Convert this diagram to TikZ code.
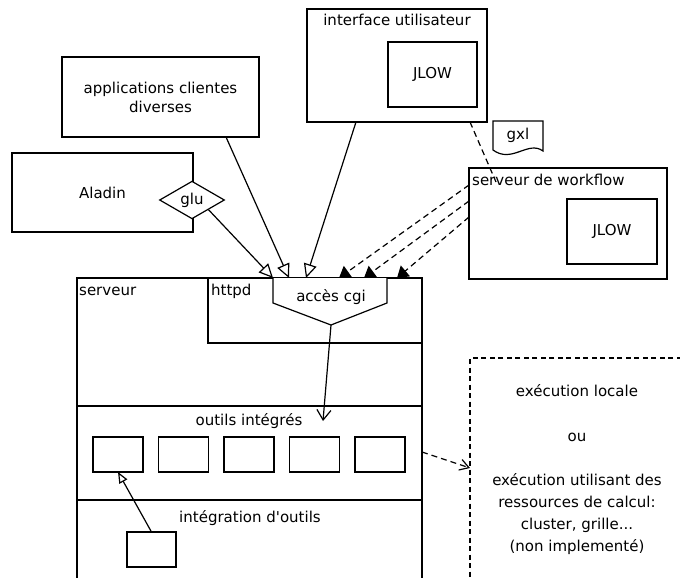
\documentclass[tikz,border=0pt]{standalone}
\usepackage{fontspec}
\setmainfont{DejaVu Sans}
\usetikzlibrary{arrows.meta,shapes.geometric,calc}
\begin{document}
\begin{tikzpicture}[x=1pt,y=-1pt, font=\fontsize{15}{19}\selectfont,
  lw/.style={line width=1.2pt},
  box/.style={draw, lw, rectangle, inner sep=0pt, outer sep=0pt, fill=white},
  lbl/.style={inner sep=0pt, anchor=base west},
  openarr/.style={lw, -{Triangle[open,length=14pt,width=13pt,fill=white]}},
  dasharr/.style={lw, dash pattern=on 6pt off 4pt, -{Triangle[length=11pt,width=14pt]}},
  barb/.style={lw, -{Straight Barb[length=10pt,width=14pt]}},
]
\useasboundingbox (0,0) rectangle (680,578);
\clip (0,0) rectangle (680,578);

% server
\node[box, minimum width=345pt, minimum height=330pt, anchor=north west] (srv) at (77,278) {};
\node[box, minimum width=214pt, minimum height=65pt, anchor=north west] (httpd) at (208,278) {};
\draw[lw] (77,406) -- (422,406);
\draw[lw] (77,500) -- (422,500);
\node[lbl] (srvlbl) at (79,295) {serveur};
\node[lbl] (httpdlbl) at (211,295) {httpd};

% acces cgi
\draw[lw, fill=white] (273,278) -- (273,303) -- (331,325) -- (387,303) -- (387,278);
\coordinate (cgitip) at (331,325);
\node (cgi) at (331,297) {accès cgi};

\node (outils) at (249,421) {outils intégrés};
\node (integ) at (250,518) {intégration d\textquotesingle outils};
\foreach \i/\x in {1/93,2/158.5,3/224,4/289.5,5/355}
  \node[box, minimum width=50pt, minimum height=35pt, anchor=north west] (tool\i) at (\x,437) {};
\node[box, minimum width=49pt, minimum height=35pt, anchor=north west] (src) at (127,532) {};

% top boxes
\node[box, minimum width=197pt, minimum height=80pt, align=center] (app) at (160.5,97) {applications clientes\\diverses};
\node[box, minimum width=181pt, minimum height=79pt] (aladin) at (102.5,192.5) {Aladin};
\node[draw, lw, diamond, fill=white, minimum width=65pt, minimum height=32pt, inner sep=0pt] (glu) at (192,200) {glu};

\node[box, minimum width=180pt, minimum height=113pt] (iface) at (397,65.5) {};
\node[anchor=base, inner sep=0pt] (ifacelbl) at (397,26) {interface utilisateur};
\node[box, minimum width=89pt, minimum height=65pt] (jlow1) at (432.5,74.5) {JLOW};

\node[box, minimum width=198pt, minimum height=111pt] (wf) at (568,223.5) {};
\node[lbl] (wflbl) at (472,185) {serveur de workflow};
\node[box, minimum width=90pt, minimum height=65pt] (jlow2) at (612,231.5) {JLOW};

% gxl document
\draw[lw, fill=white] (493,121) -- (543,121) -- (543,151) .. controls (528,140) and (512,164) .. (493,150) -- cycle;
\node (gxl) at (518,135) {gxl};

% execution box
\node[box, dash pattern=on 5pt off 3.5pt, minimum width=240pt, minimum height=250pt, anchor=north west] (exec) at (470,358) {};
\node[align=center, font=\fontsize{15}{22}\selectfont] (exectxt) at (577,470)
  {exécution locale\\[23pt]ou\\[22pt]exécution utilisant des\\ressources de calcul:\\cluster, grille...\\(non implementé)};

% connector end points
\coordinate (in1) at (273,278);
\coordinate (in2) at (289,278);
\coordinate (in3) at (306,278);
\coordinate (in4) at (339,278);
\coordinate (in5) at (364,278);
\coordinate (in6) at (397,278);
\coordinate (appout) at (226,137);
\coordinate (ifout) at (356,122);
\coordinate (outin) at (323,421);

% connectors
\draw[openarr] (glu.south east) -- (in1);
\draw[openarr] (appout) -- (in2);
\draw[openarr] (ifout) -- (in3);
\draw[dasharr] ($(wf.north west)+(0,17)$) -- (in4);
\draw[dasharr] ($(wf.north west)+(0,33)$) -- (in5);
\draw[dasharr] ($(wf.north west)+(0,49)$) -- (in6);
\draw[lw, dash pattern=on 6pt off 4pt] (iface.south -| 470,0) -- ($(wf.north west)+(27,14)$);
\draw[barb] (cgitip) -- (outin);
\draw[lw, -{Triangle[open,length=11pt,width=9pt,fill=white]}] (src.north) -- (tool1.south);
\draw[lw, dash pattern=on 6pt off 4pt, -{Straight Barb[length=9pt,width=11pt]}] (srv.east |- 0,452) -- (exec.west |- 0,468);
\end{tikzpicture}
\end{document}
